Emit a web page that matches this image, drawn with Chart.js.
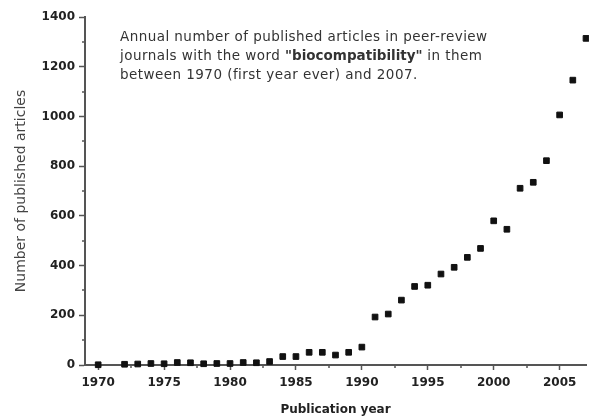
<!DOCTYPE html>
<html><head><meta charset="utf-8">
<script src="https://cdn.jsdelivr.net/npm/chart.js@4/dist/chart.umd.min.js"></script>
<style>html,body{margin:0;padding:0;background:#fff;overflow:hidden}canvas{display:block}</style>
</head><body>
<canvas id="c" width="591" height="418"></canvas>
<script>
const years = [1970,1972,1973,1974,1975,1976,1977,1978,1979,1980,1981,1982,1983,1984,1985,1986,1987,1988,1989,1990,1991,1992,1993,1994,1995,1996,1997,1998,1999,2000,2001,2002,2003,2004,2005,2006,2007];
const counts = [1,3,4,6,5,10,9,5,6,6,10,9,14,34,34,51,51,40,51,72,193,205,261,316,321,366,393,433,469,580,546,711,735,822,1006,1146,1314];
const xTickValues = [1970,1975,1980,1985,1990,1995,2000,2005];
const yTickValues = [0,200,400,600,800,1000,1200,1400];
const xMinorTicks = [1972.5,1977.5,1982.5,1987.5,1992.5,1997.5,2002.5];
const yMinorTicks = [100,300,500,700,900,1100,1300];
const xTitle = 'Publication year';
const yTitle = 'Number of published articles';
const noteLines = [
  [['Annual number of published articles in peer-review', false]],
  [['journals with the word ', false], ['"biocompatibility"', true], [' in them', false]],
  [['between 1970 (first year ever) and 2007.', false]]
];

const AXIS = '#555';
const FONT = 'DejaVu Sans';

const extras = {
  id: 'extras',
  afterDraw(chart) {
    const ctx = chart.ctx;
    const xs = chart.scales.x, ys = chart.scales.y;
    ctx.save();
    ctx.strokeStyle = AXIS;
    ctx.lineWidth = 1.5;
    ctx.beginPath();
    xMinorTicks.forEach(v => {
      const px = Math.round(xs.getPixelForValue(v));
      ctx.moveTo(px, ys.bottom); ctx.lineTo(px, ys.bottom + 3);
    });
    yMinorTicks.forEach(v => {
      const py = Math.round(ys.getPixelForValue(v));
      ctx.moveTo(xs.left, py); ctx.lineTo(xs.left - 3, py);
    });
    ctx.stroke();
    // annotation text
    ctx.fillStyle = '#333';
    ctx.textBaseline = 'alphabetic';
    ctx.textAlign = 'left';
    const x0 = 120, y0 = 41, lh = 19;
    noteLines.forEach((parts, i) => {
      let x = x0;
      parts.forEach(([t, bold]) => {
        ctx.font = (bold ? 'bold ' : '') + '13.5px "' + FONT + '"';
        ctx.letterSpacing = bold ? '0px' : '0.45px';
        ctx.fillText(t, x, y0 + i * lh);
        x += ctx.measureText(t).width;
      });
    });
    ctx.letterSpacing = '0px';
    ctx.restore();
  }
};

new Chart(document.getElementById('c'), {
  type: 'scatter',
  data: {
    datasets: [{
      data: years.map((yr, i) => ({x: yr, y: counts[i]})),
      pointStyle: 'rect',
      pointRadius: 4,
      pointBorderWidth: 1,
      pointBackgroundColor: '#111',
      pointBorderColor: '#111',
      clip: false
    }]
  },
  options: {
    responsive: false,
    devicePixelRatio: 1,
    animation: false,
    events: [],
    layout: {padding: {top: 17, left: 0, right: 0, bottom: 0}},
    plugins: {legend: {display: false}, tooltip: {enabled: false}},
    scales: {
      x: {
        type: 'linear', min: 1969, max: 2007,
        afterBuildTicks: s => { s.ticks = xTickValues.map(v => ({value: v})); },
        afterFit: s => { s.height = 53; },
        grid: {drawOnChartArea: false, tickLength: 5, tickColor: AXIS, tickWidth: 1.5},
        border: {color: AXIS, width: 2},
        ticks: {color: '#222', padding: 6, autoSkip: false, maxRotation: 0,
          font: {family: FONT, weight: 'bold', size: 12}, callback: v => String(v)},
        title: {display: true, text: xTitle, color: '#222',
          font: {family: FONT, weight: 'bold', size: 12}, padding: {top: 1, bottom: 1}}
      },
      y: {
        min: 0, max: 1400,
        afterBuildTicks: s => { s.ticks = yTickValues.map(v => ({value: v})); },
        afterFit: s => { s.width = 85; },
        grid: {drawOnChartArea: false, tickLength: 6, tickColor: AXIS, tickWidth: 1.5},
        border: {color: AXIS, width: 2},
        ticks: {color: '#222', padding: 4,
          font: {family: FONT, weight: 'bold', size: 12}, callback: v => String(v)},
        title: {display: true, text: yTitle, color: '#444',
          font: {family: FONT, size: 14}, padding: {top: 13, bottom: 0}}
      }
    }
  },
  plugins: [extras]
});
</script>
</body></html>
